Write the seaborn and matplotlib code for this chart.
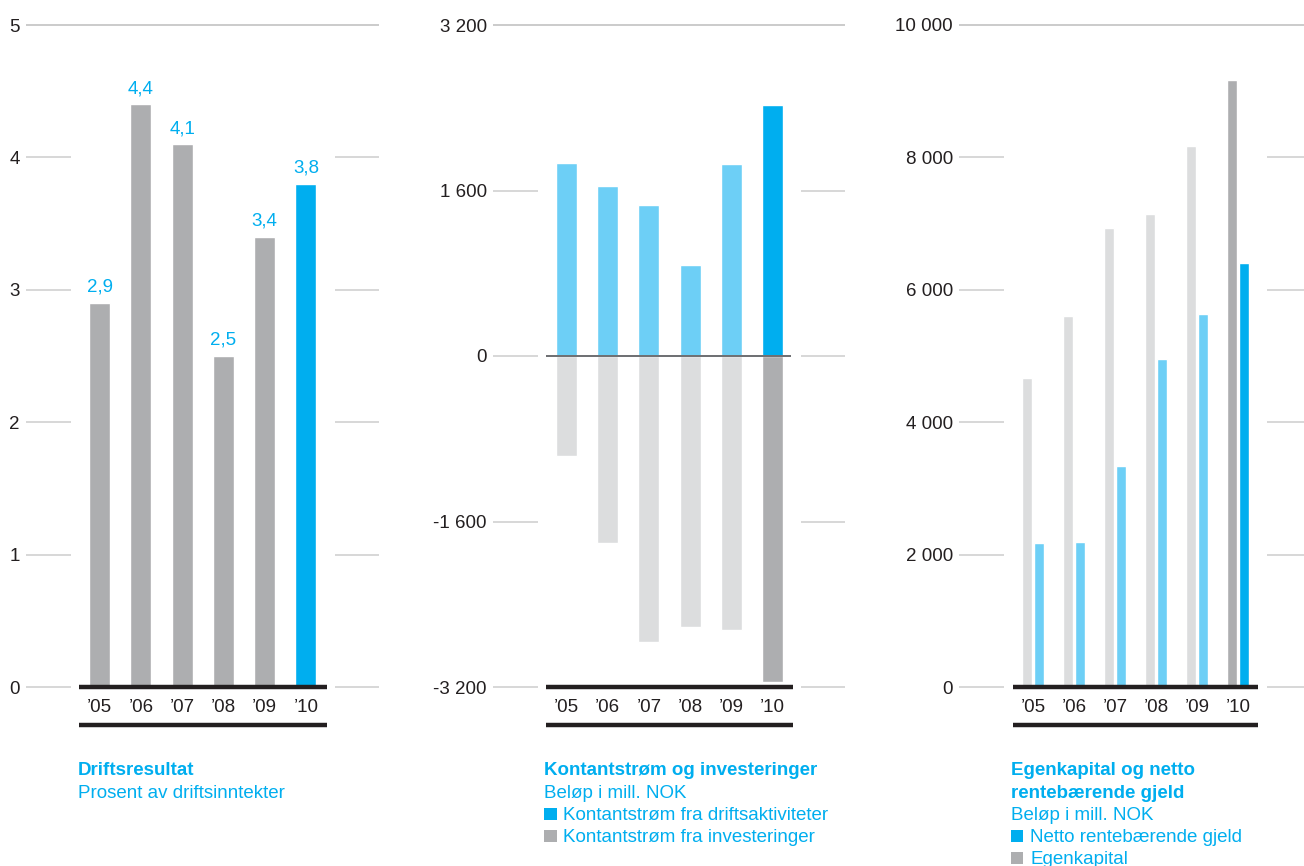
import matplotlib
matplotlib.use("Agg")
import matplotlib.pyplot as plt
from matplotlib.patches import Rectangle
import seaborn as sns
import pandas as pd

# ---- data -------------------------------------------------------------
years = ["\u201905", "\u201906", "\u201907", "\u201908", "\u201909", "\u201910"]

# Driftsresultat, prosent av driftsinntekter
driftsmargin = [2.9, 4.4, 4.1, 2.5, 3.4, 3.8]

# Kontantstrøm, mill. NOK
kontantstrom_drift = [1866, 1644, 1460, 880, 1857, 2427]
kontantstrom_invest = [-967, -1808, -2765, -2620, -2650, -3152]

# Egenkapital og netto rentebærende gjeld, mill. NOK
egenkapital = [4668, 5604, 6934, 7145, 8172, 9169]
netto_gjeld = [2175, 2190, 3338, 4955, 5634, 6405]

ticks_1 = [0, 1, 2, 3, 4, 5]
ticks_2 = [-3200, -1600, 0, 1600, 3200]
ticks_3 = [0, 2000, 4000, 6000, 8000, 10000]

# ---- style ------------------------------------------------------------
BLUE = "#00AEEF"
LIGHT_BLUE = "#6DCFF6"
GREY = "#ADAEB0"
LIGHT_GREY = "#DCDDDE"
INK = "#231F20"
GRID_TOP = "#BDBDBD"
GRID = "#CDCDCD"
FS = 13.5

sns.set_style("white")
plt.rcParams["font.family"] = ["Liberation Sans", "DejaVu Sans"]
plt.rcParams["font.size"] = FS

W, H = 1304, 866
fig = plt.figure(figsize=(W / 100, H / 100), dpi=100)


def px_axes(left, right, top=25, bottom=687):
    return fig.add_axes([left / W, 1 - bottom / H, (right - left) / W, (bottom - top) / H])


def fmt_thousands(v):
    s = f"{abs(v):,}".replace(",", " ")
    return ("-" if v < 0 else "") + s


def style(ax, xlim, ticks):
    ylim = (ticks[0], ticks[-1])
    ax.set_xlim(*xlim)
    ax.set_ylim(*ylim)
    ax.set_yticks(ticks, [fmt_thousands(t) for t in ticks])
    ax.set_xticks(range(len(years)), years)
    ax.set_xlabel("")
    ax.set_ylabel("")
    for s in ax.spines.values():
        s.set_visible(False)
    ax.tick_params(axis="both", length=0, colors=INK, labelsize=FS)
    ax.tick_params(axis="y", pad=4.5)
    ax.tick_params(axis="x", pad=8.5)
    # grid: full line at the top, only margin stubs elsewhere
    ax.hlines(ylim[1], xlim[0], xlim[1], color=GRID_TOP, lw=1.1, clip_on=False, zorder=0)
    for y in ticks[:-1]:
        ax.hlines(y, xlim[0], -0.7, color=GRID, lw=1.1, clip_on=False, zorder=0)
        ax.hlines(y, 5.7, xlim[1], color=GRID, lw=1.1, clip_on=False, zorder=0)
    # heavy base rule and rule under the year labels
    ax.hlines(ylim[0], -0.5, 5.5, color=INK, lw=3.2, clip_on=False, zorder=5)
    ax.plot([-0.5, 5.5], [-0.0574, -0.0574], transform=ax.get_xaxis_transform(),
            color=INK, lw=3.2, clip_on=False, solid_capstyle="butt")


# ---- panel 1: Driftsresultat -----------------------------------------
ax1 = px_axes(26, 379)
sns.barplot(x=years, y=driftsmargin, hue=years, palette=[GREY] * 5 + [BLUE],
            width=0.51, saturation=1, legend=False, ax=ax1, zorder=2)
for i, v in enumerate(driftsmargin):
    ax1.annotate(f"{v:.1f}".replace(".", ","), (i, v), xytext=(0, 8),
                 textcoords="offset points", ha="center", va="baseline",
                 color=BLUE, fontsize=FS)
style(ax1, (-1.784, 6.77), ticks_1)

# ---- panel 2: Kontantstrøm og investeringer ---------------------------
ax2 = px_axes(493, 845)
sns.barplot(x=years, y=kontantstrom_drift, hue=years,
            palette=[LIGHT_BLUE] * 5 + [BLUE], width=0.51, saturation=1,
            legend=False, ax=ax2, zorder=2)
sns.barplot(x=years, y=kontantstrom_invest, hue=years,
            palette=[LIGHT_GREY] * 5 + [GREY], width=0.51, saturation=1,
            legend=False, ax=ax2, zorder=2)
ax2.hlines(0, -0.5, 5.45, color="#6D6E71", lw=1.4, zorder=4)
style(ax2, (-1.784, 6.76), ticks_2)

# ---- panel 3: Egenkapital og netto rentebærende gjeld ------------------
df3 = pd.DataFrame({
    "År": years * 2,
    "Serie": ["Egenkapital"] * 6 + ["Netto rentebærende gjeld"] * 6,
    "Beløp": egenkapital + netto_gjeld,
})
ax3 = px_axes(959, 1304)
sns.barplot(data=df3, x="År", y="Beløp", hue="Serie", order=years,
            hue_order=["Egenkapital", "Netto rentebærende gjeld"],
            palette=[LIGHT_GREY, LIGHT_BLUE], width=0.585, gap=0.166,
            saturation=1, legend=False, ax=ax3, zorder=2)
# highlight the latest year
ax3.containers[0][5].set_facecolor(GREY)
ax3.containers[1][5].set_facecolor(BLUE)
style(ax3, (-1.805, 6.61), ticks_3)


# ---- captions ---------------------------------------------------------
def caption(x, y, s, bold=False):
    fig.text(x / W, 1 - y / H, s, color=BLUE, fontsize=FS, va="baseline",
             ha="left", fontweight="bold" if bold else "normal")


def swatch(x, y_bottom, color):
    fig.add_artist(Rectangle((x / W, 1 - y_bottom / H), 12.5 / W, 12 / H,
                             transform=fig.transFigure, facecolor=color,
                             edgecolor="none"))


caption(78, 775, "Driftsresultat", bold=True)
caption(78, 797.5, "Prosent av driftsinntekter")

caption(544, 775, "Kontantstrøm og investeringer", bold=True)
caption(544, 797.5, "Beløp i mill. NOK")
swatch(544, 819.5, BLUE)
caption(563, 820, "Kontantstrøm fra driftsaktiviteter")
swatch(544, 841.5, GREY)
caption(563, 842, "Kontantstrøm fra investeringer")

caption(1010.5, 775, "Egenkapital og netto", bold=True)
caption(1010.5, 797.5, "rentebærende gjeld", bold=True)
caption(1010.5, 820, "Beløp i mill. NOK")
swatch(1010.5, 842, BLUE)
caption(1030, 842, "Netto rentebærende gjeld")
swatch(1010.5, 864, GREY)
caption(1030, 864, "Egenkapital")

fig.savefig("out.png", dpi=100, facecolor="white")
